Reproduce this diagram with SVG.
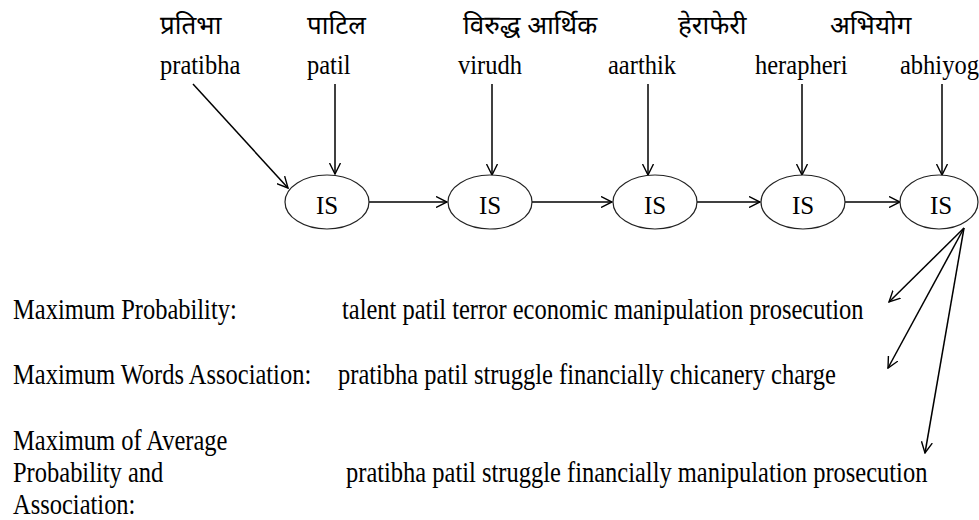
<svg xmlns="http://www.w3.org/2000/svg" width="979" height="520" viewBox="0 0 979 520">
<defs>
<marker id="arr" viewBox="0 0 12 12" refX="11" refY="6" markerWidth="12" markerHeight="12" markerUnits="userSpaceOnUse" orient="auto">
<path d="M0,0.5 L11,6 L0,11.5" fill="none" stroke="#000" stroke-width="1.4"/>
</marker>
<style>
.hi{font-family:'Noto Sans Devanagari','Lohit Devanagari','Noto Sans',sans-serif;font-size:26px;fill:#000}
.lb{font-family:'Liberation Serif','DejaVu Serif',serif;font-size:24.5px;fill:#000}
.is{font-family:'Liberation Serif','DejaVu Serif',serif;font-size:25px;fill:#000;text-anchor:middle}
.tx{font-family:'Liberation Serif','DejaVu Serif',serif;font-size:24.5px;fill:#000}
.nd{fill:#fff;stroke:#222;stroke-width:1.2}
.cn{stroke:#000;stroke-width:1.5;fill:none;marker-end:url(#arr)}
</style>
</defs>
<rect width="979" height="520" fill="#fff"/>
<g id="labels">
<text class="hi" x="160" y="34">प्रतिभा</text>
<text class="hi" x="307" y="34">पाटिल</text>
<text class="hi" x="463" y="34">विरुद्ध  आर्थिक</text>
<text class="hi" x="678" y="34">हेराफेरी</text>
<text class="hi" x="830" y="34">अभियोग</text>
<text class="lb" transform="translate(160,74) scale(1,1.1)">pratibha</text>
<text class="lb" transform="translate(307,74) scale(1,1.1)">patil</text>
<text class="lb" transform="translate(458,74) scale(1,1.1)">virudh</text>
<text class="lb" transform="translate(608,74) scale(1,1.1)">aarthik</text>
<text class="lb" transform="translate(755,74) scale(1,1.1)">herapheri</text>
<text class="lb" transform="translate(900,74) scale(1,1.1)">abhiyog</text>
</g>
<g id="connectors">
<line class="cn" x1="193" y1="84" x2="288" y2="188"/>
<line class="cn" x1="335" y1="84" x2="335" y2="174"/>
<line class="cn" x1="492" y1="84" x2="492" y2="175"/>
<line class="cn" x1="648" y1="84" x2="648" y2="175"/>
<line class="cn" x1="802" y1="84" x2="802" y2="175"/>
<line class="cn" x1="942" y1="84" x2="942" y2="175"/>
<line class="cn" x1="369" y1="202" x2="447" y2="202"/>
<line class="cn" x1="532" y1="202" x2="612" y2="202"/>
<line class="cn" x1="697" y1="202" x2="760" y2="202"/>
<line class="cn" x1="845" y1="202" x2="900" y2="202"/>
<line class="cn" x1="964" y1="228" x2="889" y2="302"/>
<line class="cn" x1="964" y1="228" x2="888" y2="368"/>
<line class="cn" x1="964" y1="228" x2="925" y2="453"/>
</g>
<g id="n1"><ellipse class="nd" cx="327" cy="202" rx="42" ry="27"/><text class="is" x="327" y="214">IS</text></g>
<g id="n2"><ellipse class="nd" cx="490" cy="202" rx="42" ry="27"/><text class="is" x="490" y="214">IS</text></g>
<g id="n3"><ellipse class="nd" cx="655" cy="202" rx="42" ry="27"/><text class="is" x="655" y="214">IS</text></g>
<g id="n4"><ellipse class="nd" cx="803" cy="202" rx="42" ry="27"/><text class="is" x="803" y="214">IS</text></g>
<g id="n5"><ellipse class="nd" cx="939" cy="202" rx="39" ry="27"/><text class="is" x="941" y="214">IS</text></g>
<g id="results">
<text class="tx" transform="translate(13,319) scale(1,1.18)">Maximum Probability:</text>
<text class="tx" transform="translate(342,319) scale(1,1.18)">talent patil terror economic manipulation prosecution</text>
<text class="tx" transform="translate(13,384) scale(1,1.18)">Maximum Words Association:</text>
<text class="tx" transform="translate(338,384) scale(1,1.18)">pratibha patil struggle financially chicanery charge</text>
<text class="tx" transform="translate(13,450) scale(1,1.18)">Maximum of Average</text>
<text class="tx" transform="translate(13,482) scale(1,1.18)">Probability and</text>
<text class="tx" transform="translate(13,514) scale(1,1.18)">Association:</text>
<text class="tx" transform="translate(346,482) scale(1,1.18)">pratibha patil struggle financially manipulation prosecution</text>
</g>
</svg>
